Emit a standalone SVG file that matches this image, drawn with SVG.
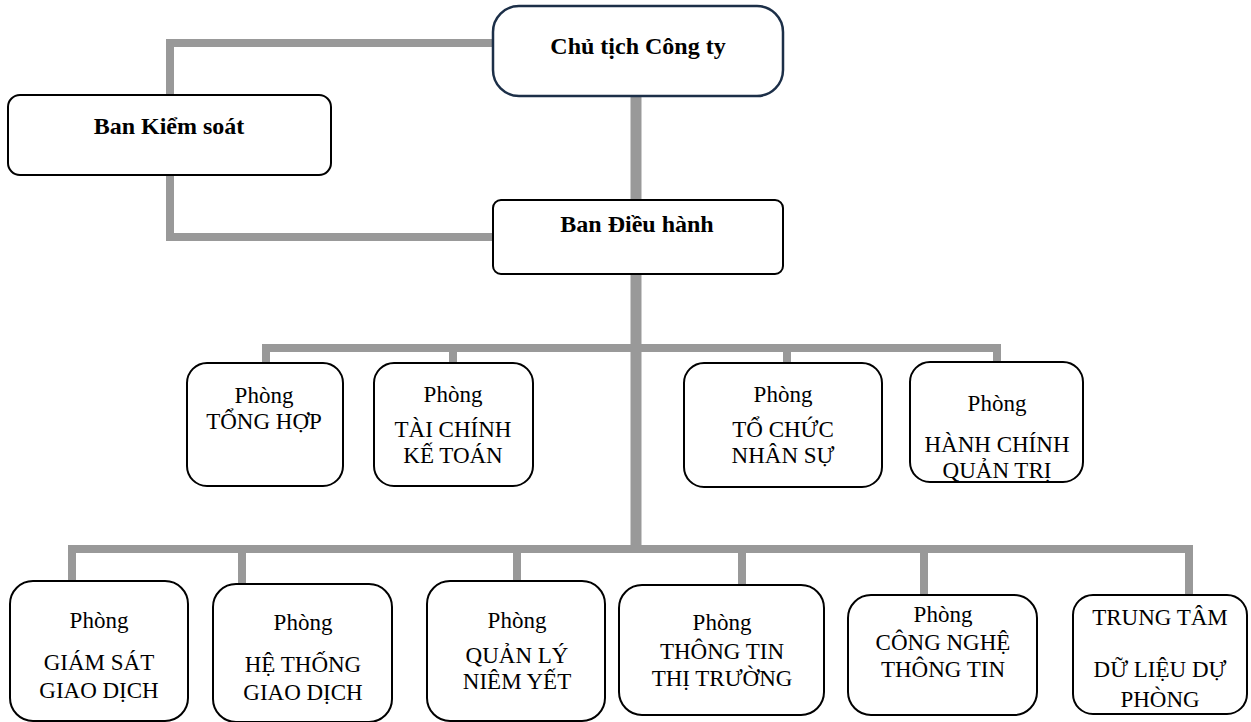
<svg xmlns="http://www.w3.org/2000/svg" width="1251" height="722" viewBox="0 0 1251 722">
<style>
.box{fill:#fff;stroke:#000;stroke-width:2}
.top{fill:#fff;stroke:#1c2f48;stroke-width:2.5}
.ln{fill:none;stroke:#999;stroke-width:8;stroke-linejoin:miter;stroke-linecap:butt}
.tr{fill:none;stroke:#999;stroke-width:11}
.b{font-family:"Liberation Serif","Times New Roman",serif;font-weight:bold;font-size:24px;text-anchor:middle;fill:#000}
.t{font-family:"Liberation Serif","Times New Roman",serif;font-size:23px;text-anchor:middle;fill:#000}
</style>
<defs>
<clipPath id="cpHC"><rect x="910" y="362" width="173" height="119"/></clipPath>
</defs>
<rect width="1251" height="722" fill="#fff"/>
<g id="connectors">
<polyline class="ln" points="493,43 170,43 170,95"/>
<polyline class="ln" points="170,175 170,237 493,237"/>
<line class="tr" x1="636" y1="96" x2="636" y2="200"/>
<line class="tr" x1="636" y1="274" x2="636" y2="553"/>
<polyline class="ln" points="266,363 266,348 997,348 997,362"/>
<line class="ln" x1="453" y1="348" x2="453" y2="363"/>
<line class="ln" x1="787" y1="348" x2="787" y2="363"/>
<polyline class="ln" points="72,581 72,549 1189,549 1189,595"/>
<line class="ln" x1="242" y1="549" x2="242" y2="584"/>
<line class="ln" x1="517" y1="549" x2="517" y2="581"/>
<line class="ln" x1="742" y1="549" x2="742" y2="585"/>
<line class="ln" x1="924" y1="549" x2="924" y2="595"/>
</g>
<g id="n-chutich">
<rect class="top" x="493" y="6" width="290" height="90" rx="26"/>
<text class="b" x="638" y="54">Chủ tịch Công ty</text>
</g>
<g id="n-kiemsoat">
<rect class="box" x="8" y="95" width="323" height="80" rx="12"/>
<text class="b" x="169" y="134">Ban Kiểm soát</text>
</g>
<g id="n-dieuhanh">
<rect class="box" x="493" y="200" width="290" height="74" rx="8"/>
<text class="b" x="637" y="232">Ban Điều hành</text>
</g>
<g id="n-tonghop">
<rect class="box" x="187" y="363" width="156" height="123" rx="20"/>
<text class="t" x="264" y="403">Phòng</text>
<text class="t" x="264" y="429">TỔNG HỢP</text>
</g>
<g id="n-taichinh">
<rect class="box" x="374" y="363" width="159" height="123" rx="20"/>
<text class="t" x="453" y="402">Phòng</text>
<text class="t" x="453" y="437">TÀI CHÍNH</text>
<text class="t" x="453" y="463">KẾ TOÁN</text>
</g>
<g id="n-tochuc">
<rect class="box" x="684" y="363" width="198" height="124" rx="20"/>
<text class="t" x="783" y="402">Phòng</text>
<text class="t" x="783" y="437">TỔ CHỨC</text>
<text class="t" x="783" y="463">NHÂN SỰ</text>
</g>
<g id="n-hanhchinh">
<rect class="box" x="910" y="362" width="173" height="120" rx="20"/>
<text class="t" x="997" y="411">Phòng</text>
<text class="t" x="997" y="452">HÀNH CHÍNH</text>
<text class="t" x="997" y="478" clip-path="url(#cpHC)">QUẢN TRỊ</text>
</g>
<g id="n-giamsat">
<rect class="box" x="10" y="581" width="178" height="140" rx="23"/>
<text class="t" x="99" y="628">Phòng</text>
<text class="t" x="99" y="670">GIÁM SÁT</text>
<text class="t" x="99" y="698">GIAO DỊCH</text>
</g>
<g id="n-hethong">
<rect class="box" x="213" y="584" width="179" height="138" rx="23"/>
<text class="t" x="303" y="630">Phòng</text>
<text class="t" x="303" y="672">HỆ THỐNG</text>
<text class="t" x="303" y="700">GIAO DỊCH</text>
</g>
<g id="n-quanly">
<rect class="box" x="427" y="581" width="178" height="140" rx="23"/>
<text class="t" x="517" y="628">Phòng</text>
<text class="t" x="517" y="663">QUẢN LÝ</text>
<text class="t" x="517" y="689">NIÊM YẾT</text>
</g>
<g id="n-thongtin">
<rect class="box" x="619" y="585" width="205" height="130" rx="23"/>
<text class="t" x="722" y="630">Phòng</text>
<text class="t" x="722" y="659">THÔNG TIN</text>
<text class="t" x="722" y="686">THỊ TRƯỜNG</text>
</g>
<g id="n-congnghe">
<rect class="box" x="848" y="595" width="189" height="120" rx="23"/>
<text class="t" x="943" y="622">Phòng</text>
<text class="t" x="943" y="650">CÔNG NGHỆ</text>
<text class="t" x="943" y="677">THÔNG TIN</text>
</g>
<g id="n-trungtam">
<rect class="box" x="1073" y="595" width="174" height="119" rx="20"/>
<text class="t" x="1160" y="625">TRUNG TÂM</text>
<text class="t" x="1160" y="677">DỮ LIỆU DỰ</text>
<text class="t" x="1160" y="707">PHÒNG</text>
</g>
</svg>
